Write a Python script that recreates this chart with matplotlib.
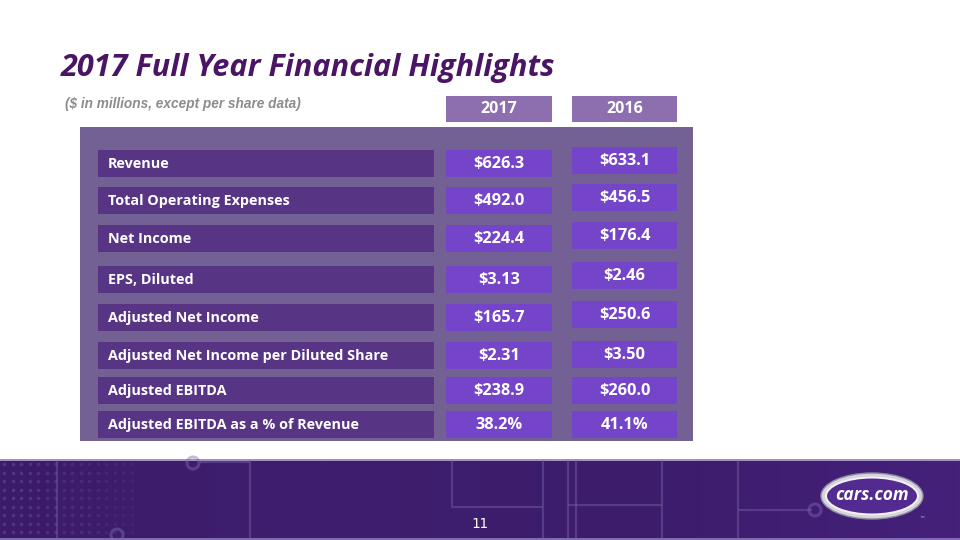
"""2017 full-year financial highlights slide, redrawn with matplotlib."""
import matplotlib
matplotlib.use("Agg")
import matplotlib.pyplot as plt
import matplotlib.patches as mpatches
import numpy as np

# ---- data -----------------------------------------------------------------
title = "2017 Full Year Financial Highlights"
subtitle = "($ in millions, except per share data)"
years = ["2017", "2016"]
metrics = [
    "Revenue",
    "Total Operating Expenses",
    "Net Income",
    "EPS, Diluted",
    "Adjusted Net Income",
    "Adjusted Net Income per Diluted Share",
    "Adjusted EBITDA",
    "Adjusted EBITDA as a % of Revenue",
]
values_2017 = [626.3, 492.0, 224.4, 3.13, 165.7, 2.31, 238.9, 38.2]
values_2016 = [633.1, 456.5, 176.4, 2.46, 250.6, 3.50, 260.0, 41.1]
formats = ["${:.1f}", "${:.1f}", "${:.1f}", "${:.2f}",
           "${:.1f}", "${:.2f}", "${:.1f}", "{:.1f}%"]
page_no = "11"

# ---- layout (pixels, origin top-left) -------------------------------------
W, H = 960, 540
ROW_TOPS = [150, 187, 225, 266, 304, 342, 377, 411]
ROW_H = 27
SHIFT_2016 = [-3, -3, -3, -4, -3, -1, 0, 0]   # 2016 boxes sit a touch higher
LABEL_X = (98, 434)
COL_X = [(446, 552), (572, 677)]

TITLE_C = "#4A1565"
PANEL_C = "#736193"
LABEL_C = "#583485"
VALUE_C = "#7545C9"
HEAD_C = "#8D6FAF"

FONT = ["Open Sans", "DejaVu Sans"]

fig = plt.figure(figsize=(9.6, 5.4), dpi=100)
ax = fig.add_axes([0, 0, 1, 1])
ax.set_xlim(0, W)
ax.set_ylim(H, 0)
ax.axis("off")


def box(x0, x1, y0, y1, color, z=1, **kw):
    ax.add_patch(mpatches.Rectangle((x0, y0), x1 - x0, y1 - y0,
                                    facecolor=color, edgecolor="none",
                                    zorder=z, **kw))


# title + subtitle
ax.text(61, 68, title, fontsize=22.1, fontweight="bold", fontstyle="italic",
        color=TITLE_C, va="center", ha="left", family=FONT)
ax.text(65, 104, subtitle, fontsize=9.8, fontweight="bold", fontstyle="italic",
        color="#8C8C8C", va="center", ha="left",
        family=["Liberation Sans", "DejaVu Sans"])

# year headers
for (x0, x1), yr in zip(COL_X, years):
    box(x0, x1, 96, 122, HEAD_C)
    ax.text((x0 + x1) / 2, 109, yr, fontsize=11.5, fontweight="bold",
            color="white", ha="center", va="center", family=FONT, zorder=3)

# big panel
box(80, 693, 127, 441, PANEL_C, z=0)

# rows
for i, name in enumerate(metrics):
    top = ROW_TOPS[i]
    box(LABEL_X[0], LABEL_X[1], top, top + ROW_H, LABEL_C)
    ax.text(LABEL_X[0] + 10, top + ROW_H / 2 + 0.5, name, fontsize=10.4,
            fontweight="bold", color="white", ha="left", va="center",
            family=FONT, zorder=3)
    for j, vals in enumerate([values_2017, values_2016]):
        y0 = top + (SHIFT_2016[i] if j == 1 else 0)
        x0, x1 = COL_X[j]
        box(x0, x1, y0, y0 + ROW_H, VALUE_C)
        ax.text((x0 + x1) / 2, y0 + ROW_H / 2 + 0.5, formats[i].format(vals[i]),
                fontsize=11.8, fontweight="bold", color="white",
                ha="center", va="center", family=FONT, zorder=3)

# ---- bottom banner ---------------------------------------------------------
grad = np.linspace(0, 1, 256)[None, :]
cmap = matplotlib.colors.LinearSegmentedColormap.from_list(
    "banner", ["#3B1B69", "#3F1E6F", "#3C1C6B", "#45217A"])
ax.imshow(grad, extent=(0, W, 540, 459), cmap=cmap, aspect="auto", zorder=0)
ax.plot([0, W], [459.5, 459.5], color="#B7A8D3", lw=1.2, zorder=1)
ax.plot([0, W], [538.5, 538.5], color="#8F7BBE", lw=1.2, zorder=1)

# dotted grid on the left
for gx in np.arange(4, 132, 8.5):
    for gy in np.arange(464, 538, 8.5):
        fade = max(0.0, 1 - gx / 135)
        ax.plot(gx, gy, "o", ms=2.6, color="#5E4894", alpha=0.2 + 0.4 * fade,
                mec="none", zorder=1)

# circuit-like strokes
line_kw = dict(color="#7F6AAE", lw=1.6, alpha=0.4, zorder=1,
               solid_capstyle="butt")
ax.plot([57, 57], [460, 540], **line_kw)
ax.plot([250, 250], [460, 540], **line_kw)
ax.plot([200, 250], [462, 462], **line_kw)
ax.plot([452, 452, 543], [460, 507, 507], **line_kw)
ax.plot([543, 543], [460, 540], **line_kw)
ax.plot([568, 568], [460, 540], **line_kw)
ax.plot([576, 576], [460, 540], **line_kw)
ax.plot([568, 662], [505, 505], **line_kw)
ax.plot([662, 662], [460, 540], **line_kw)
ax.plot([738, 738], [460, 540], **line_kw)
ax.plot([738, 812], [510, 510], **line_kw)
for cx, cy, r in [(193, 463, 6), (117, 535, 6), (815, 510, 6)]:
    ax.add_patch(mpatches.Circle((cx, cy), r, facecolor="none",
                                 edgecolor="#7F6AAE", lw=2.2, alpha=0.45,
                                 zorder=1))

ax.text(480, 524, page_no, fontsize=10, color="white", ha="center",
        va="center", family=["DejaVu Sans Mono"], zorder=3)

# logo
ax.add_patch(mpatches.Ellipse((872, 496), 102, 46, facecolor="#D5D3DC",
                              edgecolor="#8E8AA0", lw=1, zorder=2))
ax.add_patch(mpatches.Ellipse((872, 496), 92, 37, facecolor="#532A90",
                              edgecolor="#F2F0F6", lw=1.5, zorder=3))
ax.text(872, 495, "cars.com", fontsize=12.5, fontweight="bold",
        fontstyle="italic", color="white", ha="center", va="center",
        family=FONT, zorder=4)
ax.text(922, 519, "™", fontsize=4, color="#CFC7E3", ha="center",
        va="center", zorder=4)

fig.savefig("out.png", dpi=100)
